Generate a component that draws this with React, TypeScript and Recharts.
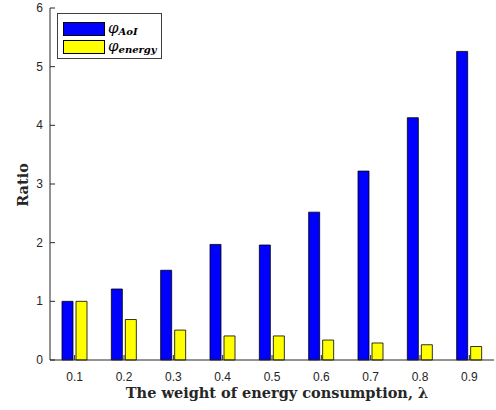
import React from 'react';
import { BarChart, Bar, XAxis, YAxis, Legend, Label } from 'recharts';

const lambdas = ['0.1', '0.2', '0.3', '0.4', '0.5', '0.6', '0.7', '0.8', '0.9'];
const phiAoI = [1.0, 1.21, 1.53, 1.97, 1.96, 2.52, 3.22, 4.13, 5.26];
const phiEnergy = [1.0, 0.69, 0.51, 0.41, 0.41, 0.34, 0.29, 0.26, 0.23];
const yTicks = [0, 1, 2, 3, 4, 5, 6];

const data = lambdas.map((lam, i) => ({ lam, aoi: phiAoI[i], energy: phiEnergy[i] }));

const axisColor = '#262626';
const tickFont = { fontFamily: '"Liberation Sans", Arial, sans-serif', fontSize: 12, fill: axisColor };
const titleFont = { fontFamily: '"DejaVu Serif", "Liberation Serif", serif', fontSize: 14.5, fontWeight: 700, fill: '#262626' };

const subs: Record<string, string> = { aoi: 'AoI', energy: 'energy' };

const BottomTick = (props: any) => {
  const { x, y, payload } = props;
  return (
    <g>
      <line x1={x} x2={x} y1={y} y2={y - 5} stroke={axisColor} />
      <text x={x} y={y + 21} textAnchor="middle" {...tickFont}>{payload.value}</text>
    </g>
  );
};

const TopTick = (props: any) => {
  const { x, y } = props;
  return <line x1={x} x2={x} y1={y} y2={y + 5} stroke={axisColor} />;
};

const LeftTick = (props: any) => {
  const { x, y, payload } = props;
  return (
    <g>
      <line x1={x} x2={x + 5} y1={y} y2={y} stroke={axisColor} />
      <text x={x - 7} y={y + 4} textAnchor="end" {...tickFont}>{payload.value}</text>
    </g>
  );
};

const RightTick = (props: any) => {
  const { x, y } = props;
  return <line x1={x} x2={x - 5} y1={y} y2={y} stroke={axisColor} />;
};

const LegendBox = (props: any) => {
  const items = props.payload || [];
  return (
    <div style={{ width: 103, height: 44, border: '1px solid #404040', background: '#fff', position: 'relative' }}>
      {items.map((entry: any, i: number) => (
        <div key={entry.dataKey} style={{ position: 'absolute', left: 5, top: 8 + i * 18, height: 14, display: 'flex', alignItems: 'center' }}>
          <div style={{ width: 40, height: 12, background: entry.color, border: '1px solid #000' }} />
          <span style={{ marginLeft: 3, fontFamily: '"DejaVu Serif", serif', fontStyle: 'italic', fontSize: 15, color: '#000', lineHeight: '14px', whiteSpace: 'nowrap' }}>
            φ<span style={{ fontSize: 10, fontWeight: 600, position: 'relative', top: 2 }}>{subs[entry.dataKey]}</span>
          </span>
        </div>
      ))}
    </div>
  );
};

export default function App() {
  return (
    <div style={{ position: 'absolute', left: 0, top: 0, width: 496, height: 410, background: '#fff' }}>
      <BarChart width={496} height={410} data={data} margin={{ top: 8, right: 2, left: 0, bottom: 0 }} barSize={11} barGap={3}>
        <XAxis dataKey="lam" height={50} tickSize={0} tickMargin={0} tick={<BottomTick />} stroke={axisColor} interval={0}>
          <Label
            content={(p: any) => (
              <text x={p.viewBox.x + p.viewBox.width / 2 + 5} y={p.viewBox.y + 38} textAnchor="middle" {...titleFont}>
                The weight of energy consumption, λ
              </text>
            )}
          />
        </XAxis>
        <XAxis xAxisId="top" dataKey="lam" orientation="top" height={0} tickSize={0} tickMargin={0} tick={<TopTick />} stroke={axisColor} interval={0} />
        <YAxis width={50} domain={[0, 6]} ticks={yTicks} tickSize={0} tickMargin={0} tick={<LeftTick />} stroke={axisColor} interval={0}>
          <Label
            content={(p: any) => {
              const cx = 22;
              const cy = p.viewBox.y + p.viewBox.height / 2 + 1;
              return (
                <text x={cx} y={cy} textAnchor="middle" dominantBaseline="central" transform={`rotate(-90 ${cx} ${cy})`} {...titleFont}>
                  Ratio
                </text>
              );
            }}
          />
        </YAxis>
        <YAxis yAxisId="r" orientation="right" width={0} domain={[0, 6]} ticks={yTicks} tickSize={0} tickMargin={0} tick={<RightTick />} stroke={axisColor} interval={0} />
        <Legend layout="vertical" align="center" verticalAlign="middle" wrapperStyle={{ left: 57, top: 13, width: 105, height: 46 }} content={<LegendBox />} />
        <Bar dataKey="aoi" name="φAoI" fill="#0000ff" stroke="#000" strokeWidth={0.8} isAnimationActive={false} />
        <Bar dataKey="energy" name="φenergy" fill="#ffff00" stroke="#000" strokeWidth={0.8} isAnimationActive={false} />
      </BarChart>
    </div>
  );
}
